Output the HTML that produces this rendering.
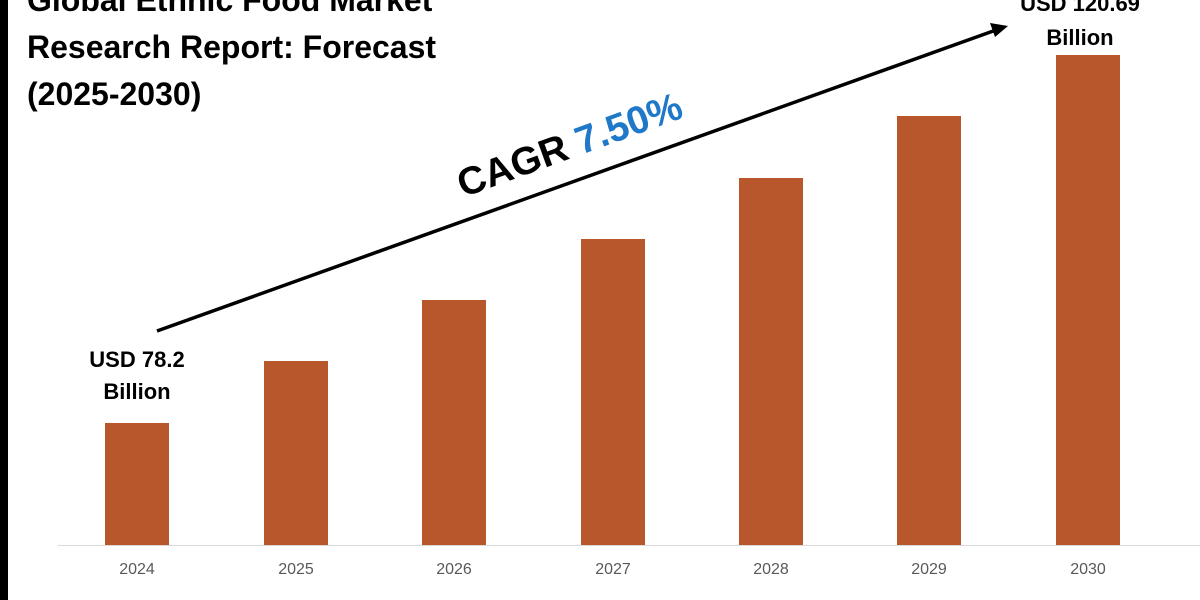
<!DOCTYPE html>
<html><head><meta charset="utf-8"><style>
html,body{margin:0;padding:0;background:#fff}
body{width:1200px;height:600px;position:relative;overflow:hidden;font-family:"Liberation Sans",sans-serif}
.bar{position:absolute;background:#b8562c;width:64px;bottom:55px}
.yr{position:absolute;top:561px;width:100px;text-align:center;font-size:16px;color:#595959}
.t{position:absolute;font-weight:bold;color:#000}
</style></head><body>
<div style="position:absolute;left:0;top:0;width:8px;height:600px;background:#000"></div>
<div class="t" style="left:27px;top:-23px;font-size:32px;line-height:47px;white-space:nowrap">Global Ethnic Food Market<br>Research Report: Forecast<br>(2025-2030)</div>
<div style="position:absolute;left:58px;top:545px;width:1142px;height:1px;background:#d9d9d9"></div>
<div class="bar" style="left:105px;top:423px"></div>
<div class="bar" style="left:264px;top:361px"></div>
<div class="bar" style="left:422px;top:300px"></div>
<div class="bar" style="left:581px;top:239px"></div>
<div class="bar" style="left:739px;top:178px"></div>
<div class="bar" style="left:897px;top:116px"></div>
<div class="bar" style="left:1056px;top:55px"></div>
<div class="yr" style="left:87px">2024</div>
<div class="yr" style="left:246px">2025</div>
<div class="yr" style="left:404px">2026</div>
<div class="yr" style="left:563px">2027</div>
<div class="yr" style="left:721px">2028</div>
<div class="yr" style="left:879px">2029</div>
<div class="yr" style="left:1038px">2030</div>
<svg style="position:absolute;left:0;top:0" width="1200" height="600">
<line x1="157" y1="331" x2="996" y2="30" stroke="#000" stroke-width="3.5"/>
<polygon points="1008,26 990,23 995,37" fill="#000"/>
</svg>
<div class="t" style="left:0;top:344px;width:274px;text-align:center;font-size:22px;line-height:32px">USD 78.2<br>Billion</div>
<div class="t" style="left:980px;top:-13px;width:200px;text-align:center;font-size:22px;line-height:34px">USD 120.69<br>Billion</div>
<div class="t" style="left:430px;top:124px;width:280px;text-align:center;font-size:39px;white-space:nowrap;transform:rotate(-20deg)">CAGR <span style="color:#1f78c8">7.50%</span></div>
</body></html>
